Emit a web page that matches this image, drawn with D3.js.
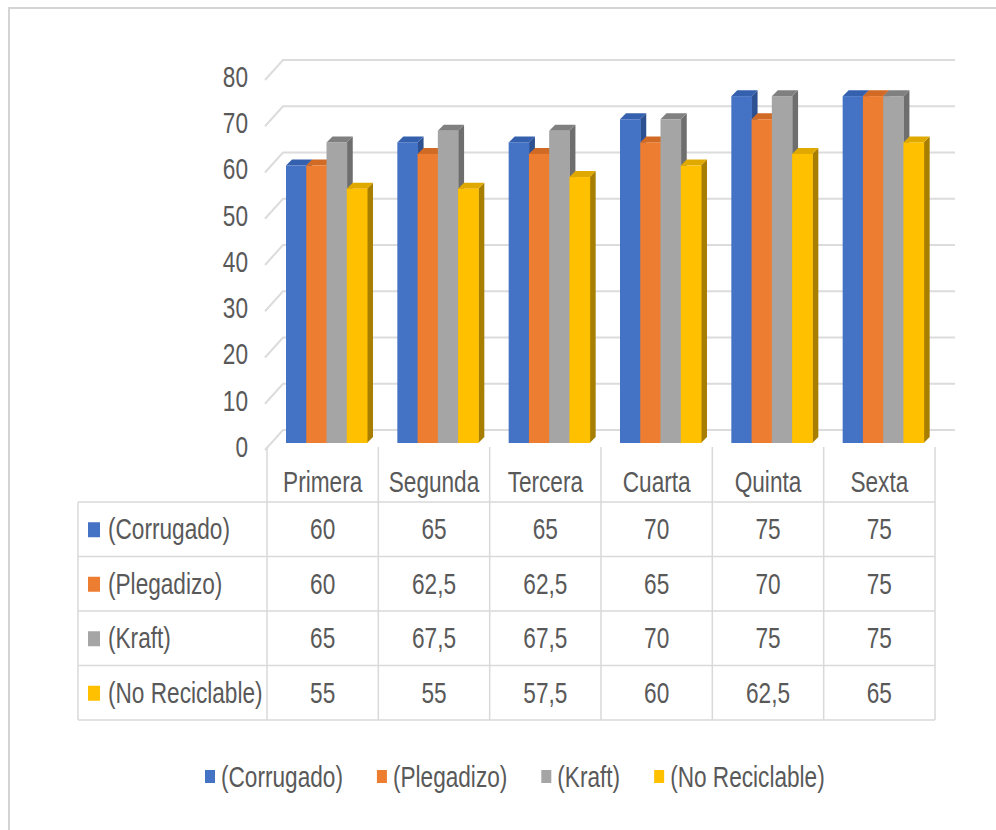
<!DOCTYPE html>
<html>
<head>
<meta charset="utf-8">
<script src="https://cdn.jsdelivr.net/npm/d3@7"></script>
<style>
  body { margin: 0; background: #fff; }
  text { font-family: "Liberation Sans", Arial, sans-serif; fill: #595959; }
</style>
</head>
<body>
<div id="container"></div>
<script>
const w = 996,
    h = 830,
    squeeze = 0.78,
    fontSize = 29;

// data
const categories = ["Primera", "Segunda", "Tercera", "Cuarta", "Quinta", "Sexta"];
const seriesNames = ["(Corrugado)", "(Plegadizo)", "(Kraft)", "(No Reciclable)"];
const corrugado = [60, 65, 65, 70, 75, 75];
const plegadizo = [60, 62.5, 62.5, 65, 70, 75];
const kraft = [65, 67.5, 67.5, 70, 75, 75];
const noReciclable = [55, 55, 57.5, 60, 62.5, 65];
const yTicks = [0, 10, 20, 30, 40, 50, 60, 70, 80];

const seriesValues = [corrugado, plegadizo, kraft, noReciclable];
const colors = ["#4472C4", "#ED7D31", "#A5A5A5", "#FFC000"];
const sideColors = ["#2d5090", "#b35a1c", "#6e6e6e", "#a87e00"];
const topColors = ["#3560ad", "#d06a24", "#808080", "#e0a900"];
const depth = 6;

var svg = d3.select("#container")
    .append("svg")
    .attr("width", w)
    .attr("height", h)
    .style("background-color", "#fff");

// outer chart border
svg.append("path")
    .attr("d", "M9," + h + " V8 H" + w)
    .attr("fill", "none")
    .attr("stroke", "#d4d4d4")
    .attr("stroke-width", 2);

var x = d3.scaleBand().domain(categories).range([267, 935]);
var xs = d3.scaleBand().domain(seriesNames).range([19, 100]);
var y = d3.scaleLinear().domain([0, 80]).range([443, 73]);
var rows = d3.scaleBand().domain(seriesNames).range([502, 720]);

function label(g, px, py, str, anchor) {
    return g.append("text")
        .attr("transform", "translate(" + px + "," + py + ") scale(" + squeeze + ",1)")
        .attr("text-anchor", anchor || "middle")
        .attr("dy", "0.35em")
        .style("font-size", fontSize + "px")
        .text(str);
}

// back wall gridlines with the short diagonal of the side wall
var grid = svg.append("g");
grid.selectAll("path")
    .data(yTicks)
    .enter()
    .append("path")
    .attr("d", d => "M265," + (y(d) + 7) + " L283," + (y(d) - 13) + " H955")
    .attr("fill", "none")
    .attr("stroke", "#dcdcdc")
    .attr("stroke-width", 2);

// y axis labels
var yAxis = svg.append("g")
    .attr("transform", "translate(248,4)")
    .call(d3.axisLeft(y).tickValues(yTicks).tickSize(0).tickPadding(0));
yAxis.select(".domain").remove();
yAxis.selectAll("text")
    .attr("transform", "scale(" + squeeze + ",1)")
    .style("font-size", fontSize + "px")
    .style("font-family", "Liberation Sans, Arial, sans-serif")
    .attr("fill", "#595959");

// 3d bars
var bars = svg.append("g");
categories.forEach(function (cat, ci) {
    seriesNames.forEach(function (s, si) {
        var v = seriesValues[si][ci];
        var x0 = x(cat) + xs(s),
            x1 = x0 + xs.bandwidth(),
            yt = y(v),
            yb = y(0);
        var g = bars.append("g");
        g.append("path") // side
            .attr("d", "M" + x1 + "," + yb + " L" + x1 + "," + yt + " L" + (x1 + depth) + "," + (yt - depth) +
                " L" + (x1 + depth) + "," + (yb - depth) + " Z")
            .attr("fill", sideColors[si]);
        g.append("path") // top
            .attr("d", "M" + x0 + "," + yt + " L" + (x0 + depth) + "," + (yt - depth) + " L" + (x1 + depth) + "," + (yt - depth) +
                " L" + x1 + "," + yt + " Z")
            .attr("fill", topColors[si]);
        g.append("rect") // front
            .attr("x", x0)
            .attr("y", yt)
            .attr("width", xs.bandwidth() + 0.5)
            .attr("height", yb - yt)
            .attr("fill", colors[si]);
    });
});

// data table
var table = svg.append("g");
var lineColor = "#d9d9d9";
var edges = categories.map(c => x(c)).concat([x.range()[1]]);
table.selectAll(".vline")
    .data(edges)
    .enter()
    .append("line")
    .attr("x1", d => d).attr("x2", d => d)
    .attr("y1", 447).attr("y2", rows.range()[1])
    .attr("stroke", lineColor)
    .attr("stroke-width", 1.5);
table.append("line")
    .attr("x1", 78).attr("x2", 78)
    .attr("y1", rows.range()[0]).attr("y2", rows.range()[1])
    .attr("stroke", lineColor)
    .attr("stroke-width", 1.5);
var hl = seriesNames.map(s => rows(s)).concat([rows.range()[1]]);
table.selectAll(".hline")
    .data(hl)
    .enter()
    .append("line")
    .attr("x1", 78).attr("x2", x.range()[1])
    .attr("y1", d => d).attr("y2", d => d)
    .attr("stroke", lineColor)
    .attr("stroke-width", 1.5);

categories.forEach(function (cat) {
    label(table, x(cat) + x.bandwidth() / 2, 482, cat);
});

seriesNames.forEach(function (s, si) {
    var cy = rows(s) + rows.bandwidth() / 2;
    table.append("rect")
        .attr("x", 88)
        .attr("y", cy - 7)
        .attr("width", 12)
        .attr("height", 15)
        .attr("fill", colors[si]);
    label(table, 108, cy, s, "start");
    categories.forEach(function (cat, ci) {
        label(table, x(cat) + x.bandwidth() / 2, cy, String(seriesValues[si][ci]).replace(".", ","));
    });
});

// legend
var legend = svg.append("g");
var lx = 205, ly = 777;
seriesNames.forEach(function (s, si) {
    legend.append("rect")
        .attr("x", lx)
        .attr("y", ly - 7)
        .attr("width", 10)
        .attr("height", 13)
        .attr("fill", colors[si]);
    var t = label(legend, lx + 16, ly, s, "start");
    lx += 16 + t.node().getComputedTextLength() * squeeze + 34;
});
</script>
</body>
</html>
